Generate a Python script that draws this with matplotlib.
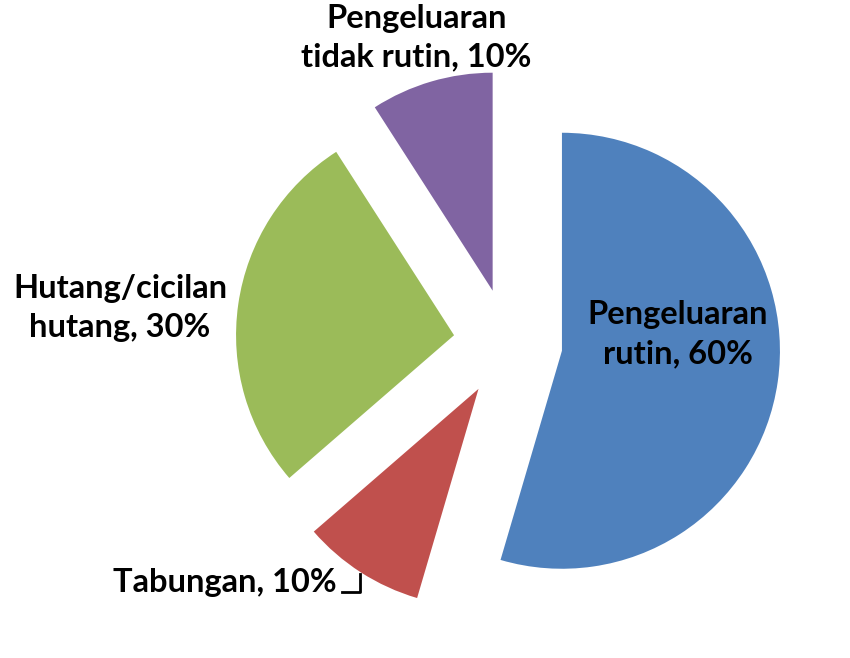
import matplotlib.pyplot as plt

# Data
labels = ['Pengeluaran\nrutin, 60%', 'Tabungan, 10%', 'Hutang/cicilan\nhutang, 30%',
          'Pengeluaran\ntidak rutin, 10%']
values = [60, 10, 30, 10]
colors = ['#4F81BD', '#C0504D', '#9BBB59', '#8064A2']
explode = [0.25, 0.25, 0.25, 0.25]

# label positions (data units, pie radius = 1)
label_pos = [(0.78, 0.04), (-1.30, -1.10), (-1.78, 0.16), (-0.42, 1.40)]

plt.rcParams['font.family'] = ['Lato', 'DejaVu Sans']

fig = plt.figure(figsize=(8.5, 6.58), dpi=100)
ax = fig.add_axes([0, 0, 1, 1])

ax.pie(values, colors=colors, explode=explode, startangle=90, counterclock=False,
       radius=1.0, wedgeprops=dict(linewidth=0))

for lab, (x, y) in zip(labels, label_pos):
    ax.text(x, y, lab, ha='center', va='center', fontsize=23.5, fontweight='bold',
            color='black', linespacing=1.4)

# leader line for Tabungan
lx, ly = label_pos[1]
ax.plot([lx + 0.54, lx + 0.62, lx + 0.62], [ly - 0.04, ly - 0.04, ly + 0.04],
        color='black', lw=2)

ax.set_xlim(-508 / 218, 342 / 218)
ax.set_ylim(-315 / 218, 343 / 218)
ax.axis('off')

plt.savefig('out.png', dpi=100, facecolor='white')
